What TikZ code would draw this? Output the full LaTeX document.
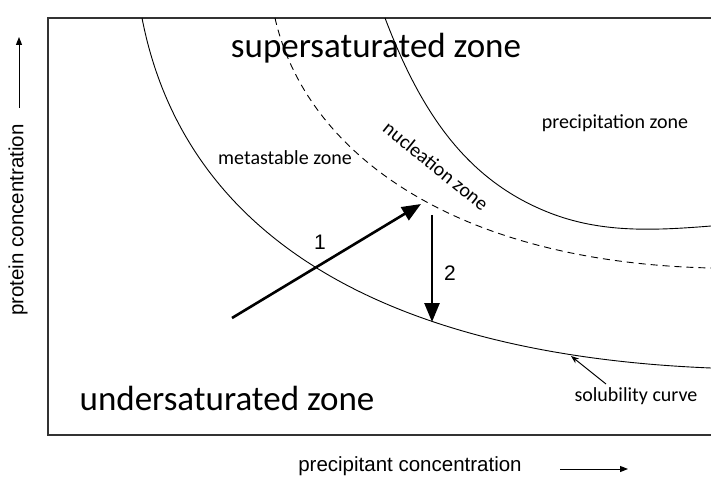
\documentclass[tikz,border=0pt]{standalone}
\usepackage{fontspec}
\setmainfont{Carlito}
\newfontfamily\arialf{Liberation Sans}
\usetikzlibrary{arrows.meta}
\begin{document}
\begin{tikzpicture}[x=1pt,y=-1pt,
  curve/.style={line width=0.9pt,black},
  bigarrow/.style={line width=2.6pt,-{Triangle[length=19pt,width=15pt]}},
  zonebig/.style={font=\fontsize{35}{40}\selectfont,inner sep=0pt},
  zonesmall/.style={font=\fontsize{20}{24}\selectfont,inner sep=0pt},
  axislabel/.style={font=\arialf\fontsize{20.5}{24}\selectfont,inner sep=0pt},
  num/.style={font=\arialf\fontsize{21}{24}\selectfont,inner sep=0pt},
  axisarrow/.style={line width=1pt,-{Triangle[length=8pt,width=6pt]}}]
\useasboundingbox (0,0) rectangle (711,478);
% frame
\draw[line width=1.5pt,black!80] (711,18) -- (48,18) -- (48,435) -- (711,435);
% solubility curve
\draw[curve] (142,18) .. controls (185,240) and (390,355) .. (711,368);
% nucleation (dashed) curve
\draw[curve,dash pattern=on 7pt off 5pt] (275,18) .. controls (305,150) and (450,262) .. (711,268);
% precipitation curve
\draw[curve] (385,18) .. controls (420,110) and (465,180) .. (550,213)
  .. controls (600,232.4) and (650,231) .. (711,226);
% labels
\node[zonebig] (sup) at (376,48) {supersaturated zone};
\node[zonebig] (und) at (227,398) {undersaturated zone};
\node[zonesmall] (meta) at (285,158) {metastable zone};
\node[zonesmall] (prec) at (615,123) {precipitation zone};
\node[zonesmall,rotate=-39] (nuc) at (436,166) {nucleation zone};
\node[zonesmall] (sol) at (636,396) {solubility curve};
\node[num] (n1) at (320,242) {1};
\node[num] (n2) at (450,273) {2};
% arrows
\coordinate (a1s) at (232,318);
\coordinate (a1e) at (421,204);
\coordinate (a2s) at (432,215);
\coordinate (a2e) at (432,322);
\draw[bigarrow] (a1s) -- (a1e);
\draw[bigarrow] (a2s) -- (a2e);
\coordinate (ps) at (606,384);
\coordinate (pe) at (571,356);
\draw[line width=1pt,-{Stealth[length=8pt,width=6pt]}] (ps) -- (pe);
% axis labels
\node[axislabel,rotate=90] (ylab) at (18,220) {protein concentration};
\coordinate (ys) at (19,108);
\coordinate (ye) at (19,37);
\draw[axisarrow] (ys) -- (ye);
\node[axislabel] (xlab) at (410,466) {precipitant concentration};
\coordinate (xs) at (560,469);
\coordinate (xe) at (628,469);
\draw[axisarrow] (xs) -- (xe);
\end{tikzpicture}
\end{document}
